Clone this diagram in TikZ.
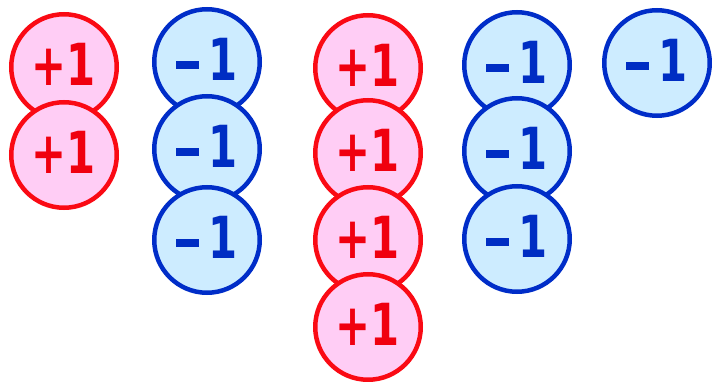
\documentclass[tikz,border=0pt]{standalone}
\usepackage{fontspec}
\newfontfamily\chipfont{DejaVu Sans}
\usetikzlibrary{positioning}
\definecolor{posline}{RGB}{250,10,20}
\definecolor{posfill}{RGB}{255,205,245}
\definecolor{postext}{RGB}{240,0,15}
\definecolor{negline}{RGB}{0,45,200}
\definecolor{negfill}{RGB}{205,236,255}
\definecolor{negtext}{RGB}{0,45,195}
\tikzset{
  chip/.style={circle, line width=4.5pt, minimum size=105.5pt, inner sep=0pt,
    text depth=6pt, font=\chipfont\bfseries\fontsize{58}{58}\selectfont},
  poschip/.style={chip, draw=posline, fill=posfill, text=postext},
  negchip/.style={chip, draw=negline, fill=negfill, text=negtext},
}
\newcommand{\plusone}{\scalebox{0.72}[1]{+1}\hspace{6pt}}
\newcommand{\minusone}{\scalebox{0.72}[1]{\rule[0.19em]{0.55em}{0.14em}\hspace{0.22em}1}\hspace{10pt}}
\begin{document}
\begin{tikzpicture}[x=1pt,y=-1pt]
        \useasboundingbox (0,0) rectangle (712,382);
        % first group of columns
        \foreach \yy [count=\i] in {67,155}
            \node[poschip] (a\i) at (64,\yy) {\plusone};
        \foreach \yy [count=\i] in {62,149,240}
            \node[negchip] (b\i) at (207,\yy) {\minusone};
        % second group of columns
        \foreach \yy [count=\i] in {68,153,240,327}
            \node[poschip] (c\i) at (368,\yy) {\plusone};
        \foreach \yy [count=\i] in {65,151,239}
            \node[negchip] (d\i) at (517,\yy) {\minusone};
        \node[negchip] (e1) at (657,63) {\minusone};
    \end{tikzpicture}
\end{document}
